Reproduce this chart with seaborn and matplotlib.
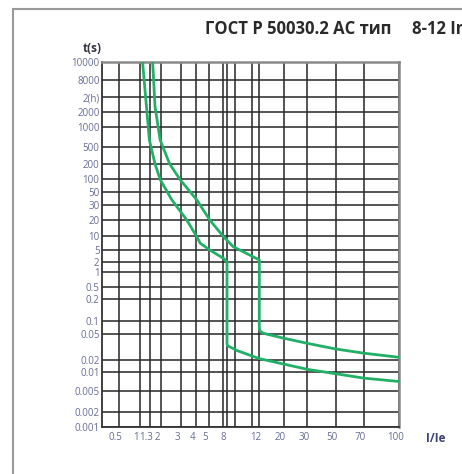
import numpy as np
import pandas as pd
import matplotlib
matplotlib.use("Agg")
import matplotlib.pyplot as plt
from matplotlib.patches import Rectangle
from matplotlib.transforms import ScaledTranslation
import seaborn as sns

# tripping curve, 8 In (lower) and 12 In (upper)
I_8 = [1.08, 1.28, 1.6, 1.98, 2.5, 3.35, 4.05, 4.3, 5.1, 7.2, 8, 8, 8.1, 9.5, 10.1, 12, 30, 51, 70, 100]
t_8 = [10000, 635, 200, 98, 37, 20, 9.7, 7, 5, 2.6, 2, 0.036, 0.033, 0.030, 0.028, 0.021, 0.0115, 0.0092, 0.0079, 0.0070]

I_12 = [1.45, 1.6, 1.97, 2.4, 2.95, 4.05, 5.1, 7.2, 9.5, 12, 12, 12.2, 13, 20, 30, 50, 70, 100]
t_12 = [10000, 3100, 635, 200, 98, 37, 20, 9.7, 5.9, 2.3, 0.067, 0.058, 0.052, 0.043, 0.036, 0.0295, 0.0254, 0.022]

# grid values and labels
x_grid = [0.5, 1, 1.3, 2, 3, 4, 5, 7, 8, 10, 11, 12, 20, 30, 50, 70, 100]
x_labels = ["0.5", "1", "1.3", "2", "3", "4", "5", "", "8", "", "", "12", "20", "30", "50", "70", "100"]
y_grid = [0.001, 0.002, 0.005, 0.01, 0.02, 0.05, 0.1, 0.2, 0.5, 1, 2, 5, 10, 20, 30, 50,
          100, 200, 500, 1000, 2000, 7200, 8000, 10000]
y_labels = ["0.001", "0.002", "0.005", "0.01", "0.02", "0.05", "0.1", "0.2", "0.5", "1", "2", "5",
            "10", "20", "30", "50", "100", "200", "500", "1000", "2000", "2(h)", "8000", "10000"]

# the printed grid is not a true log scale: where each grid line sits (px)
x_edge = 0.3
x_pos = [102.3, 119.3, 139.5, 150, 160.5, 181, 196, 209, 222.5, 227, 235, 251.7, 259.3, 284, 307.3, 335.7, 364, 399]
y_pos = [426.7, 411.7, 390.7, 371.7, 360, 334, 320.7, 299.3, 287.3, 272.3, 261.7, 250, 236, 220, 205, 192.3,
         179.3, 164, 146.7, 127.3, 111.7, 97.3, 80, 62.3]

W, H = 462, 474
green = "#22b067"
label_col = "#676c95"


def make_scale(vals, pos):
    lv = np.log10(np.asarray(vals, float))
    p = np.asarray(pos, float)

    def fwd(v):
        v = np.log10(np.clip(np.asarray(v, float), 1e-12, None))
        return np.interp(v, lv, p)

    def inv(q):
        return 10 ** np.interp(np.asarray(q, float), p, lv)
    return fwd, inv


xf, xi = make_scale([x_edge] + x_grid, x_pos)
yf, yi = make_scale(y_grid, [H - v for v in y_pos])

df = pd.concat([
    pd.DataFrame({"I": I_8, "t": t_8, "curve": "8"}),
    pd.DataFrame({"I": I_12, "t": t_12, "curve": "12"}),
])

sns.set_style("white")
plt.rcParams["font.family"] = ["Open Sans", "DejaVu Sans"]

fig = plt.figure(figsize=(W / 100, H / 100), dpi=100)
ax = fig.add_axes([x_pos[0] / W, 1 - y_pos[0] / H, (x_pos[-1] - x_pos[0]) / W, (y_pos[0] - y_pos[-1]) / H])

sns.lineplot(data=df, x="I", y="t", units="curve", estimator=None, sort=False,
             color=green, linewidth=2, ax=ax, legend=False, zorder=3)

ax.set_xscale("function", functions=(xf, xi))
ax.set_yscale("function", functions=(yf, yi))
ax.set_xlim(x_edge, 100)
ax.set_ylim(0.001, 10000)
ax.set_xticks(x_grid)
ax.set_xticklabels(x_labels)
ax.set_yticks(y_grid)
ax.set_yticklabels(y_labels)
ax.minorticks_off()
ax.grid(True, color="#262626", linewidth=1.1)
ax.set_axisbelow(True)
ax.tick_params(length=0, labelsize=7, labelcolor=label_col)
ax.tick_params(axis="y", pad=2)
ax.tick_params(axis="x", pad=4)
ax.set_xlabel("")
ax.set_ylabel("")
for s in ["left", "bottom"]:
    ax.spines[s].set_color("#333333")
    ax.spines[s].set_linewidth(1.3)
for s in ["top", "right"]:
    ax.spines[s].set_color("#8a8a8a")
    ax.spines[s].set_linewidth(1.8)

shift = ScaledTranslation(-3.5 / 100, 0, fig.dpi_scale_trans)
for lab in ax.get_xticklabels():
    lab.set_transform(lab.get_transform() + shift)

# outer frame
fig.patches.append(Rectangle((12.7 / W, -0.1), 2, 1 - 9.3 / H + 0.1, transform=fig.transFigure,
                             fill=False, edgecolor="#9a9a9a", linewidth=1.5))

fig.text(205 / W, 1 - 33.5 / H, "ГОСТ Р 50030.2 АС тип", fontsize=12, fontweight="bold",
         color="#2a2a2a", va="baseline", ha="left")
fig.text(411.7 / W, 1 - 33.5 / H, "8-12 In", fontsize=12, fontweight="bold",
         color="#2a2a2a", va="baseline", ha="left")
fig.text(92 / W, 1 - 48 / H, "t(s)", fontsize=8.5, fontweight="bold", color="#333344",
         ha="center", va="center")
fig.text(436 / W, 1 - 438 / H, "I/Ie", fontsize=8.5, fontweight="bold", color="#3b4170",
         ha="center", va="center")

fig.savefig("out.png", dpi=100)
